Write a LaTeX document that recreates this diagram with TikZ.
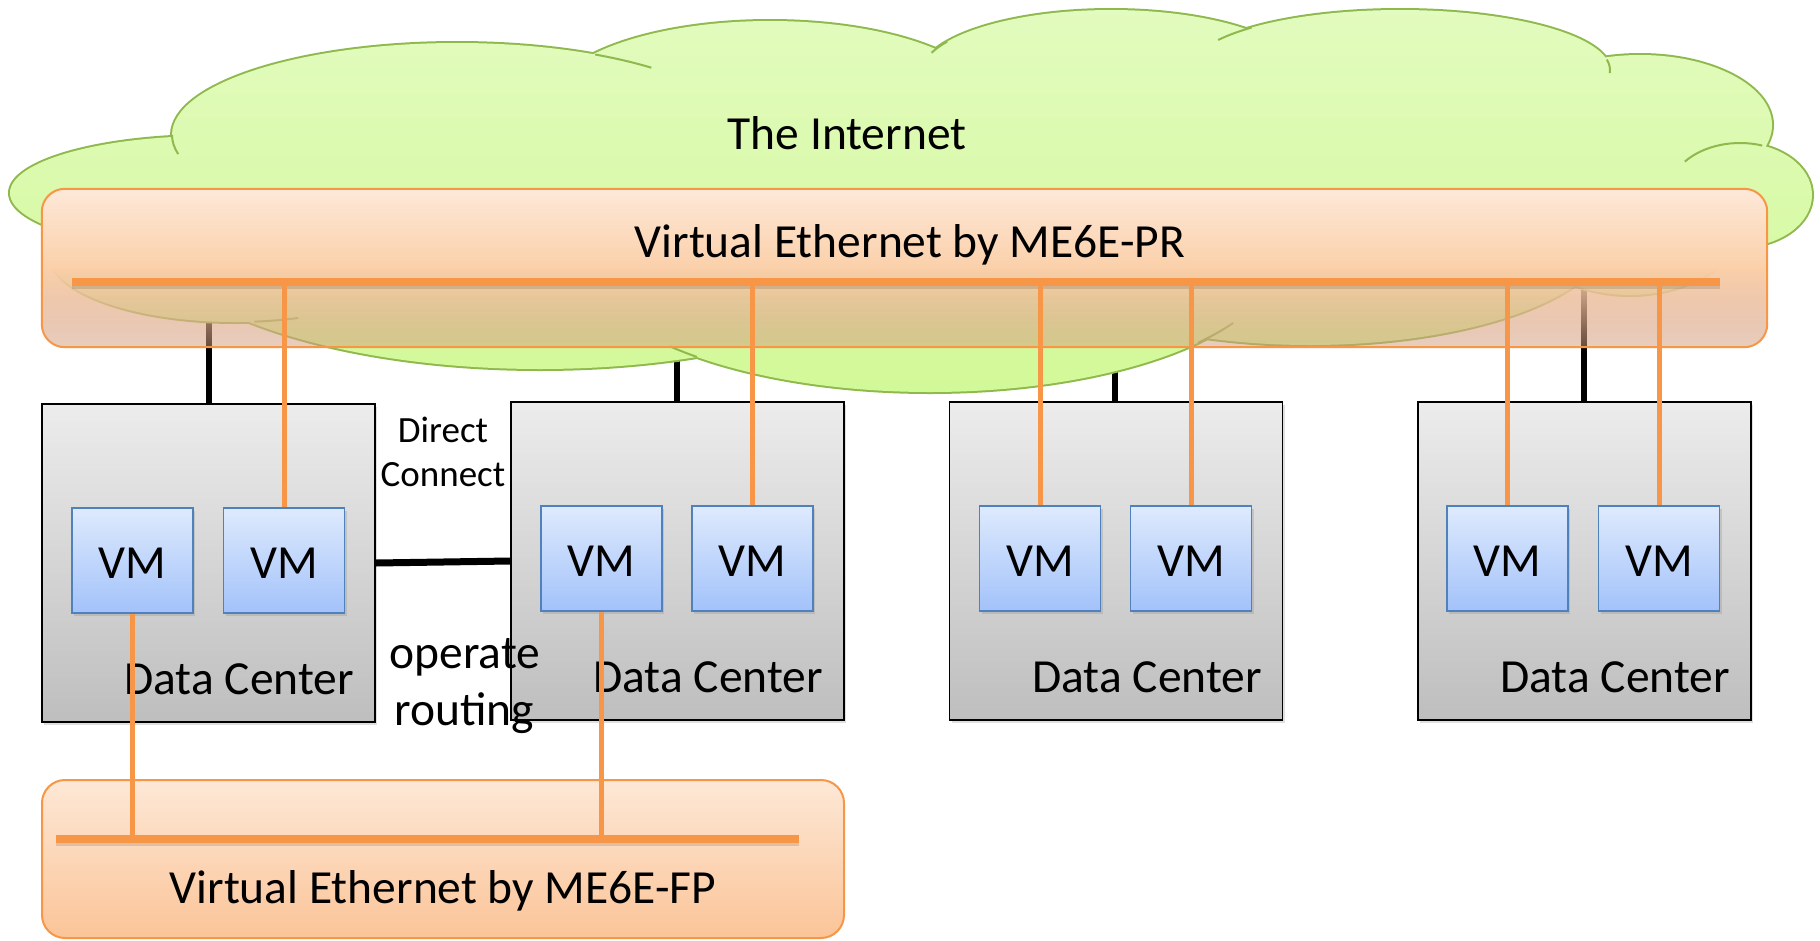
\documentclass[tikz,border=0pt]{standalone}
\usepackage{fontspec}
\setmainfont{Carlito}
\usetikzlibrary{shadows,calc}
\pgfdeclarelayer{back}
\pgfsetlayers{back,main}
\definecolor{cloudline}{RGB}{143,185,77}
\definecolor{cloudtop}{RGB}{226,251,190}
\definecolor{cloudbot}{RGB}{210,249,152}
\definecolor{orng}{RGB}{247,150,70}
\definecolor{petop}{RGB}{253,233,217}
\definecolor{pemid}{RGB}{251,208,170}
\definecolor{pebot}{RGB}{209,155,125}
\definecolor{dctop}{RGB}{236,236,236}
\definecolor{dcbot}{RGB}{190,190,190}
\definecolor{vmtop}{RGB}{222,234,253}
\definecolor{vmbot}{RGB}{163,194,250}
\definecolor{vmline}{RGB}{79,129,189}
\definecolor{fptop}{RGB}{253,232,214}
\definecolor{fpbot}{RGB}{251,196,152}
\newcommand\bigtext{\fontsize{47.5}{57}\selectfont}
\newcommand\smalltext{\fontsize{37}{44}\selectfont}
\begin{document}
\begin{tikzpicture}[x=1pt,y=-1pt,
  softshadow/.style={drop shadow={opacity=.25, shadow xshift=2pt, shadow yshift=-3pt}},
  dcbox/.style={draw=black, line width=1.5pt, top color=dctop, bottom color=dcbot,
    minimum width=333pt, minimum height=318pt, inner sep=0pt, softshadow},
  vmbox/.style={draw=vmline, line width=1.6pt, top color=vmtop, bottom color=vmbot,
    minimum width=121pt, minimum height=105pt, inner sep=0pt, font=\bigtext,
    text height=35pt, text depth=0pt, softshadow},
  fpbox/.style={draw=orng, line width=2pt, rounded corners=23pt, top color=fptop, bottom color=fpbot,
    minimum width=802pt, minimum height=158pt, inner sep=0pt},
  txt/.style={inner sep=0pt, font=\bigtext},
  stxt/.style={inner sep=0pt, font=\smalltext},
  bus/.style={orng, line width=8pt},
  busshadow/.style={black, opacity=.12, line width=8pt},
  link/.style={orng, line width=5pt},
  wire/.style={black, line width=6pt},
  cloudedge/.style={cloudline, line width=2pt}
]
\useasboundingbox (0,0) rectangle (1820,940);

% invisible frame of the upper virtual ethernet
\node[minimum width=1725pt, minimum height=158pt, inner sep=0pt] (pr) at (904.5,268) {};

% data centers
\node[dcbox] (dc1) at (208.5,563) {};
\node[dcbox] (dc2) at (677.5,561) {};
\node[dcbox] (dc3) at (1116,561) {};
\node[dcbox] (dc4) at (1584.5,561) {};

% VMs
\node[vmbox] (vm1) at (132.5,560.5) {VM};
\node[vmbox] (vm2) at (284,560.5) {VM};
\node[vmbox] (vm3) at (601.5,558.5) {VM};
\node[vmbox] (vm4) at (752.5,558.5) {VM};
\node[vmbox] (vm5) at (1040,558.5) {VM};
\node[vmbox] (vm6) at (1191,558.5) {VM};
\node[vmbox] (vm7) at (1507.5,558.5) {VM};
\node[vmbox] (vm8) at (1659,558.5) {VM};

% cloud-side ends of the uplinks
\coordinate (k1) at (209,300);
\coordinate (k2) at (677,330);
\coordinate (k3) at (1115,340);
\coordinate (k4) at (1584,270);

\begin{pgfonlayer}{back}
  \draw[wire] (k1) -- (k1 |- dc1.north);
  \draw[wire] (k2) -- (k2 |- dc2.north);
  \draw[wire] (k3) -- (k3 |- dc3.north);
  \draw[wire] (k4) -- (k4 |- dc4.north);
  % cloud outline
  \draw[cloudline, line width=4pt]
    (210,193) ellipse [x radius=200, y radius=57]
    (457,135) ellipse [x radius=285, y radius=92]
    (770,103) ellipse [x radius=220, y radius=82]
    (1111,75) ellipse [x radius=191, y radius=65]
    (1400,70) ellipse [x radius=210, y radius=60]
    (1640,125) ellipse [x radius=132, y radius=70]
    (1740,195) ellipse [x radius=72, y radius=52]
    (1630,200) ellipse [x radius=125, y radius=95]
    (1310,233) ellipse [x radius=300, y radius=112]
    (930,254) ellipse [x radius=350, y radius=138]
    (540,219) ellipse [x radius=400, y radius=150]
    (235,255) ellipse [x radius=185, y radius=67]
    (900,210) ellipse [x radius=760, y radius=140]
    (1450,150) ellipse [x radius=250, y radius=100];
  % cloud fill
  \shade[top color=cloudtop, bottom color=cloudbot]
    (210,193) ellipse [x radius=200, y radius=57]
    (457,135) ellipse [x radius=285, y radius=92]
    (770,103) ellipse [x radius=220, y radius=82]
    (1111,75) ellipse [x radius=191, y radius=65]
    (1400,70) ellipse [x radius=210, y radius=60]
    (1640,125) ellipse [x radius=132, y radius=70]
    (1740,195) ellipse [x radius=72, y radius=52]
    (1630,200) ellipse [x radius=125, y radius=95]
    (1310,233) ellipse [x radius=300, y radius=112]
    (930,254) ellipse [x radius=350, y radius=138]
    (540,219) ellipse [x radius=400, y radius=150]
    (235,255) ellipse [x radius=185, y radius=67]
    (900,210) ellipse [x radius=760, y radius=140]
    (1450,150) ellipse [x radius=250, y radius=100];
  % inner arcs of the cloud
  \draw[cloudedge] ($(457,135)+(168:285 and 92)$) arc[start angle=168, end angle=180, x radius=285, y radius=92];
  \draw[cloudedge] ($(457,135)+(-61:285 and 92)$) arc[start angle=-61, end angle=-47, x radius=285, y radius=92];
  \draw[cloudedge] ($(1111,75)+(-149:191 and 65)$) arc[start angle=-149, end angle=-160, x radius=191, y radius=65];
  \draw[cloudedge] ($(1400,70)+(-135:210 and 60)$) arc[start angle=-135, end angle=-150, x radius=210, y radius=60];
  \draw[cloudedge] ($(1400,70)+(-10:210 and 60)$) arc[start angle=-10, end angle=3, x radius=210, y radius=60];
  \draw[cloudedge] ($(1740,195)+(-72:72 and 52)$) arc[start angle=-72, end angle=-140, x radius=72, y radius=52];
  \draw[cloudedge] ($(235,255)+(84:185 and 67)$) arc[start angle=84, end angle=70, x radius=185, y radius=67];
  \draw[cloudedge] ($(930,254)+(131.8:350 and 138)$) arc[start angle=131.8, end angle=138, x radius=350, y radius=138];
  \draw[cloudedge] ($(930,254)+(40:350 and 138)$) arc[start angle=40, end angle=30, x radius=350, y radius=138];
  % upper virtual ethernet box: opaque at the top, half transparent at the bottom
  \begin{scope}
    \clip[rounded corners=23pt] (pr.south west) rectangle (pr.north east);
    \shade[top color=petop, bottom color=pemid] (0,188) rectangle (1820,268);
    \foreach \i in {0,...,39} {
      \pgfmathtruncatemacro\pc{100-100*(\i+0.5)/40}
      \pgfmathsetmacro\op{1-0.5*(\i+0.5)/40}
      \pgfmathtruncatemacro\ya{268+2*\i}
      \pgfmathtruncatemacro\yb{270+2*\i}
      \fill[pemid!\pc!pebot, fill opacity=\op] (0,\ya) rectangle (1820,\yb);
    }
  \end{scope}
  \draw[orng, line width=2pt, rounded corners=23pt] (pr.south west) rectangle (pr.north east);
\end{pgfonlayer}

% direct connect
\draw[black, line width=7pt] (dc1.east) -- (dc2.west);

% lower virtual ethernet box
\node[fpbox] (fp) at (443,859) {};

% texts
\node[txt, anchor=base] (inet) at (847,149) {The Internet};
\node[txt, anchor=base] (prt) at (910,257) {Virtual Ethernet by ME6E-PR};
\node[txt, anchor=base] (fpt) at (443,903) {Virtual Ethernet by ME6E-FP};
\node[txt, anchor=base east] (dc1t) at (354,694) {Data Center};
\node[txt, anchor=base east] (dc2t) at (823,692) {Data Center};
\node[txt, anchor=base east] (dc3t) at (1262,692) {Data Center};
\node[txt, anchor=base east] (dc4t) at (1730,692) {Data Center};
\node[stxt, anchor=base] (direct) at (443,442) {Direct};
\node[stxt, anchor=base] (connect) at (443,486) {Connect};
\node[txt, anchor=base] (operate) at (465,668) {operate};
\node[txt, anchor=base] (routing) at (464,725) {routing};

% buses
\coordinate (prL) at (72,282);
\coordinate (prR) at (1720,282);
\coordinate (fpL) at (56,839);
\coordinate (fpR) at (799,839);
\draw[busshadow] ([yshift=-3pt]prL) -- ([yshift=-3pt]prR);
\draw[busshadow] ([yshift=-3pt]fpL) -- ([yshift=-3pt]fpR);
\draw[bus] (prL) -- (prR);
\draw[bus] (fpL) -- (fpR);

% VM links
\foreach \v in {vm2,vm4,vm5,vm6,vm7,vm8}
  \draw[link] (\v.north |- prL) -- (\v.north);
\draw[link] (vm1.south) -- (vm1.south |- fpL);
\draw[link] (vm3.south) -- (vm3.south |- fpL);
\end{tikzpicture}
\end{document}
